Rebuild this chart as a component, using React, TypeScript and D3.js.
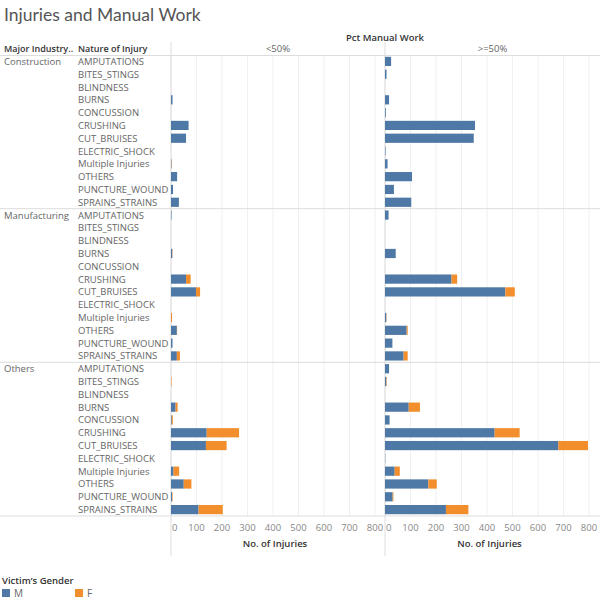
import React from "react";
import * as d3 from "d3";

const industries = ["Construction", "Manufacturing", "Others"];
const injuries = [
  "AMPUTATIONS", "BITES_STINGS", "BLINDNESS", "BURNS", "CONCUSSION", "CRUSHING",
  "CUT_BRUISES", "ELECTRIC_SHOCK", "Multiple Injuries", "OTHERS", "PUNCTURE_WOUND", "SPRAINS_STRAINS",
];
const panels = ["<50%", ">=50%"];
const genders = ["M", "F"];
const tickValues = [0, 100, 200, 300, 400, 500, 600, 700, 800];

// values per injury (same order as injuries)
const constructionLowM = [0, 0, 0, 6, 0, 69, 59, 0, 2, 24, 8, 31];
const constructionLowF = [0, 0, 0, 0, 0, 0, 0, 0, 1, 0, 0, 0];
const constructionHighM = [24, 6, 0, 16, 3, 353, 348, 2, 10, 106, 35, 103];
const constructionHighF = [0, 0, 0, 0, 0, 0, 0, 0, 0, 0, 0, 0];
const manufacturingLowM = [2, 0, 0, 5, 0, 59, 98, 0, 0, 23, 6, 23];
const manufacturingLowF = [0, 0, 0, 1, 0, 18, 16, 0, 4, 1, 0, 12];
const manufacturingHighM = [14, 0, 0, 42, 0, 261, 472, 0, 5, 85, 29, 73];
const manufacturingHighF = [0, 0, 0, 0, 0, 22, 37, 0, 1, 4, 0, 16];
const othersLowM = [0, 0, 0, 18, 3, 140, 137, 0, 10, 50, 4, 108];
const othersLowF = [0, 2, 0, 8, 4, 127, 81, 0, 22, 30, 2, 95];
const othersHighM = [16, 5, 0, 93, 18, 430, 680, 1, 38, 170, 30, 239];
const othersHighF = [0, 2, 0, 44, 0, 98, 116, 0, 20, 33, 3, 88];

const valueTable: Record<string, number[][][]> = {
  Construction: [[constructionLowM, constructionLowF], [constructionHighM, constructionHighF]],
  Manufacturing: [[manufacturingLowM, manufacturingLowF], [manufacturingHighM, manufacturingHighF]],
  Others: [[othersLowM, othersLowF], [othersHighM, othersHighF]],
};

const colors: Record<string, string> = { M: "#4e79a7", F: "#f28e2b" };
const FONT = "'Open Sans', 'Noto Sans', sans-serif";

export default function App() {
  const rows = industries.flatMap((ind) => injuries.map((inj) => `${ind}|${inj}`));
  const y = d3.scaleBand<string>().domain(rows).range([55, 516]).paddingInner(0.28).paddingOuter(0.14);
  const xs = [
    d3.scaleLinear().domain([0, 800]).range([171, 375]),
    d3.scaleLinear().domain([0, 800]).range([385, 589]),
  ];
  const rowStep = y.step();
  const groupLines = industries.map((_, i) => 55 + (i + 1) * 12 * rowStep);

  const bars: { key: string; x: number; y: number; w: number; h: number; fill: string }[] = [];
  industries.forEach((ind) => {
    injuries.forEach((inj, j) => {
      panels.forEach((_, p) => {
        let acc = 0;
        genders.forEach((g, gi) => {
          const v = valueTable[ind][p][gi][j];
          if (v > 0) {
            const x0 = xs[p](acc);
            const x1 = xs[p](acc + v);
            bars.push({ key: `${ind}-${inj}-${p}-${g}`, x: x0, y: y(`${ind}|${inj}`)!, w: x1 - x0, h: y.bandwidth(), fill: colors[g] });
          }
          acc += v;
        });
      });
    });
  });

  return (
    <svg width={600} height={600} style={{ position: "absolute", left: 0, top: 0, fontFamily: FONT }}>
      <rect width={600} height={600} fill="#fff" />
      <text x={4} y={21} fontSize={17.5} fill="#555" fontFamily="Lato, 'Open Sans', sans-serif">Injuries and Manual Work</text>
      <text x={385} y={41} fontSize={9.5} fill="#333" textAnchor="middle" fontWeight={600}>Pct Manual Work</text>
      {panels.map((p, i) => (
        <text key={p} x={(xs[i].range()[0] + (i === 0 ? 385 : 600)) / 2} y={52} fontSize={9.5} fill="#666" textAnchor="middle">{p}</text>
      ))}
      <text x={4} y={52} fontSize={9} fill="#333" fontWeight={600}>Major Industry..</text>
      <text x={78} y={52} fontSize={9} fill="#333" fontWeight={600}>Nature of Injury</text>

      {/* gridlines */}
      {xs.map((x, i) =>
        tickValues.map((t) => (
          <line key={`g${i}-${t}`} x1={x(t)} x2={x(t)} y1={55} y2={516} stroke="#f0f0f0" strokeWidth={1} />
        ))
      )}

      {/* horizontal separators */}
      <line x1={0} x2={600} y1={55.5} y2={55.5} stroke="#ddd" />
      {groupLines.map((gy, i) => (
        <line key={`h${i}`} x1={0} x2={600} y1={gy} y2={gy} stroke="#ddd" />
      ))}
      {/* vertical dividers */}
      <line x1={171} x2={171} y1={42} y2={556} stroke="#ddd" />
      <line x1={385} x2={385} y1={42} y2={556} stroke="#ddd" />

      {/* row labels */}
      {industries.map((ind) => (
        <text key={ind} x={4} y={y(`${ind}|${injuries[0]}`)! + y.bandwidth() / 2 + 3.5} fontSize={9.5} fill="#666">{ind}</text>
      ))}
      {rows.map((r) => (
        <text key={r} x={78} y={y(r)! + y.bandwidth() / 2 + 3.5} fontSize={9.5} fill="#666">{r.split("|")[1]}</text>
      ))}

      {/* bars */}
      {bars.map((b) => (
        <rect key={b.key} x={b.x} y={b.y} width={b.w} height={b.h} fill={b.fill} />
      ))}

      {/* axes */}
      {xs.map((x, i) =>
        tickValues.map((t) => (
          <text key={`t${i}-${t}`} x={t === 0 ? x(t) + 1 : x(t)} y={531} fontSize={9.5} fill="#888" textAnchor={t === 0 ? "start" : "middle"}>{t}</text>
        ))
      )}
      {xs.map((x, i) => (
        <text key={`al${i}`} x={(x.range()[0] + (i === 0 ? 385 : 600)) / 2 - 3} y={547} fontSize={9.5} fill="#333" fontWeight={600} textAnchor="middle">No. of Injuries</text>
      ))}

      {/* legend */}
      <text x={2} y={584} fontSize={9.5} fill="#333" fontWeight={600}>Victim’s Gender</text>
      {genders.map((g, i) => (
        <g key={g} transform={`translate(${2 + i * 73},589)`}>
          <rect width={8} height={8} fill={colors[g]} />
          <text x={12} y={8} fontSize={10} fill="#666">{g}</text>
        </g>
      ))}
    </svg>
  );
}
